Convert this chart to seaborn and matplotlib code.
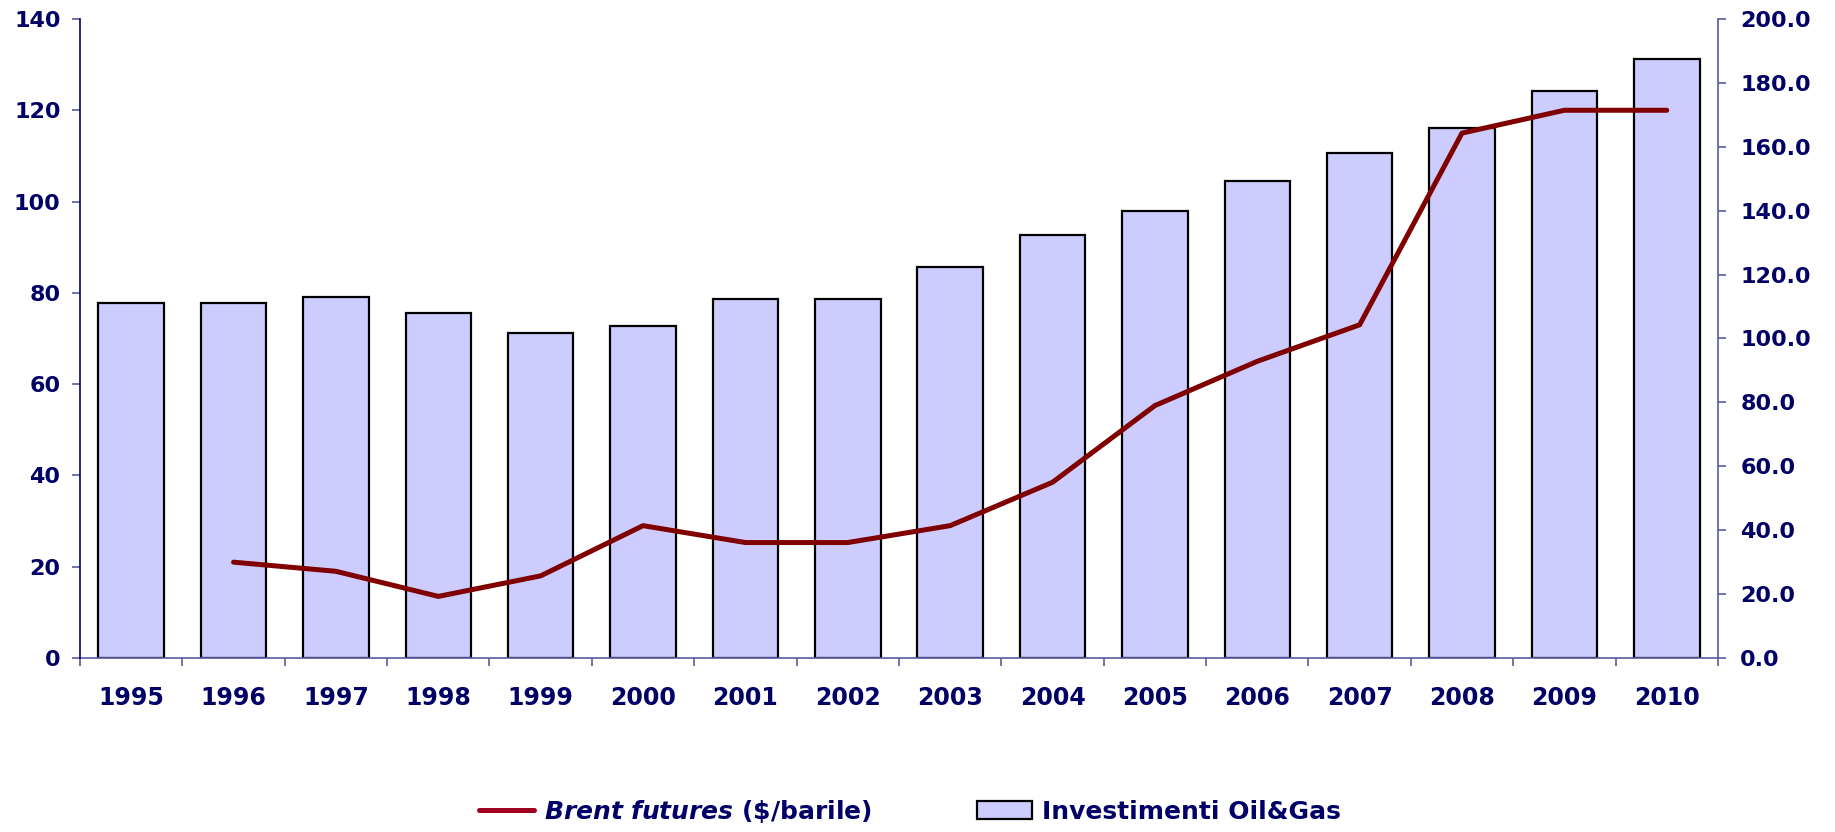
import numpy as np
import pandas as pd
import matplotlib
matplotlib.use("Agg")
import matplotlib.pyplot as plt
import seaborn as sns
from matplotlib.lines import Line2D
from matplotlib.patches import Patch

# dati
years = [1995, 1996, 1997, 1998, 1999, 2000, 2001, 2002,
         2003, 2004, 2005, 2006, 2007, 2008, 2009, 2010]
investimenti = [111.0, 111.0, 113.0, 108.0, 101.7, 104.0, 112.3, 112.3,
                122.4, 132.4, 140.0, 149.2, 158.0, 166.0, 177.4, 187.4]
brent = [np.nan, 21.0, 19.0, 13.5, 18.0, 29.0, 25.3, 25.3,
         29.0, 38.5, 55.3, 65.0, 73.0, 115.0, 120.0, 120.0]
left_ticks = [0, 20, 40, 60, 80, 100, 120, 140]
right_ticks = [0, 20, 40, 60, 80, 100, 120, 140, 160, 180, 200]

navy = "#000066"
axcol = "#5a5aa0"

sns.set_style("white")
plt.rcParams["font.family"] = ["DejaVu Sans"]

df = pd.DataFrame({"year": years, "invest": investimenti, "brent": brent})

fig = plt.figure(figsize=(18.35, 8.32), dpi=100)
ax = fig.add_axes([0.0436, 0.2091, 0.8926, 0.7681])
ax2 = ax.twinx()

# barre sull'asse destro (0-200)
sns.barplot(data=df, x="year", y="invest", native_scale=True, width=0.64,
            color="#CCCCFF", saturation=1, edgecolor="black", linewidth=1.6,
            ax=ax, zorder=2)
# linea sull'asse sinistro (0-140)
sns.lineplot(data=df, x="year", y="brent", ax=ax2, color="#800000",
             linewidth=3.6, solid_capstyle="round", zorder=3)

ax.set_xlim(1994.5, 2010.5)
ax.set_ylim(0, 200)
ax2.set_ylim(0, 140)

ax.yaxis.tick_right()
ax.yaxis.set_label_position("right")
ax2.yaxis.tick_left()
ax2.yaxis.set_label_position("left")

ax.set_yticks(right_ticks)
ax.set_yticklabels(["%.1f" % v for v in right_ticks])
ax2.set_yticks(left_ticks)
ax2.set_yticklabels([str(v) for v in left_ticks])

ax.set_xticks(years)
ax.set_xticklabels([str(y) for y in years])
ax.set_xticks(np.arange(1994.5, 2011, 1.0), minor=True)

ax.tick_params(axis="x", which="major", length=0, pad=20, labelsize=17,
               labelcolor=navy)
ax.tick_params(axis="x", which="minor", length=6, width=1.2, color=axcol,
               direction="out", bottom=True)
ax.tick_params(axis="y", length=6, width=1.2, color=axcol, direction="out",
               pad=10, labelsize=16, labelcolor=navy, right=True, left=False)
ax2.tick_params(axis="y", length=6, width=1.2, color=axcol, direction="out",
                pad=8, labelsize=16, labelcolor=navy, left=True, right=False)
for lab in ax.get_xticklabels() + ax.get_yticklabels() + ax2.get_yticklabels():
    lab.set_fontweight("bold")

ax.set_xlabel("")
ax.set_ylabel("")
ax2.set_ylabel("")
ax2.set_xlabel("")

for s in ["top", "left"]:
    ax.spines[s].set_visible(False)
for s in ["top", "right", "bottom"]:
    ax2.spines[s].set_visible(False)
ax.spines["bottom"].set_color(axcol)
ax.spines["bottom"].set_linewidth(1.2)
ax.spines["right"].set_color(axcol)
ax.spines["right"].set_linewidth(1.2)
ax2.spines["left"].set_color(navy)
ax2.spines["left"].set_linewidth(1.2)
ax.grid(False)
ax2.grid(False)

handles = [Line2D([0], [0], color="#A00020", linewidth=3.6),
           Patch(facecolor="#CCCCFF", edgecolor="black", linewidth=1.6)]
labels = [r"$\mathbfit{Brent\ futures}$ (\$/barile)", "Investimenti Oil&Gas"]
leg = fig.legend(handles, labels, loc="center", bbox_to_anchor=(0.496, 0.025),
                 ncol=2, frameon=False, handlelength=2.2, handletextpad=0.4,
                 columnspacing=4.2, prop={"weight": "bold", "size": 18})
for t in leg.get_texts():
    t.set_color(navy)

fig.savefig("out.png", dpi=100)
